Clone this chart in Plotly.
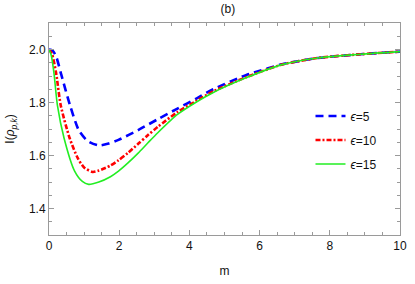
import plotly.graph_objects as go

# epsilon = 5
m_eps5 = [0, 0.1, 0.2, 0.35, 0.6, 0.85, 1.1, 1.42, 1.7, 1.98, 2.54, 3.1, 3.66, 4.2, 4.68, 5.61, 6.64, 7.66, 8.87, 10]
I_eps5 = [2.0, 1.996, 1.975, 1.905, 1.789, 1.695, 1.655, 1.638, 1.645, 1.659, 1.696, 1.737, 1.777, 1.815, 1.850, 1.903, 1.944, 1.968, 1.982, 1.992]

# epsilon = 10
m_eps10 = [0, 0.08, 0.2, 0.335, 0.59, 0.82, 1.0, 1.24, 1.42, 1.75, 1.98, 2.25, 2.54, 2.82, 3.1, 3.66, 4.2, 4.68, 5.61, 6.64, 7.66, 8.87, 10]
I_eps10 = [2.0, 1.985, 1.913, 1.789, 1.665, 1.590, 1.555, 1.538, 1.543, 1.562, 1.582, 1.610, 1.644, 1.677, 1.708, 1.764, 1.806, 1.842, 1.895, 1.943, 1.968, 1.982, 1.992]

# epsilon = 15
m_eps15 = [0, 0.06, 0.14, 0.24, 0.43, 0.73, 0.95, 1.13, 1.42, 1.75, 1.98, 2.25, 2.54, 2.82, 3.1, 3.66, 4.2, 4.68, 5.61, 6.64, 7.66, 8.87, 10]
I_eps15 = [2.0, 1.98, 1.913, 1.789, 1.665, 1.541, 1.502, 1.491, 1.500, 1.520, 1.541, 1.572, 1.609, 1.648, 1.686, 1.755, 1.802, 1.838, 1.893, 1.943, 1.968, 1.982, 1.992]

x_ticks = [0, 2, 4, 6, 8, 10]
y_ticks = [1.4, 1.6, 1.8, 2.0]

FONT = "Liberation Sans, Arial, sans-serif"
AX = "#9a9a9a"

fig = go.Figure()
fig.add_trace(go.Scatter(x=m_eps5, y=I_eps5, mode="lines", name="<i>ϵ</i>=5",
                         legendgroup="a", line=dict(color="#0000ff", width=2.6, dash="8px,5px",
                                                    shape="spline", smoothing=0.7)))
fig.add_trace(go.Scatter(x=m_eps10, y=I_eps10, mode="lines", name="<i>ϵ</i>=10",
                         legendgroup="b", line=dict(color="#ff0000", width=2.6, dash="5px,2px,2px,2px",
                                                    shape="spline", smoothing=0.7)))
fig.add_trace(go.Scatter(x=m_eps15, y=I_eps15, mode="lines", name="<i>ϵ</i>=15",
                         legendgroup="c", line=dict(color="#22ee22", width=1.6,
                                                    shape="spline", smoothing=0.7)))

axis_common = dict(showline=True, linecolor=AX, linewidth=1, mirror="allticks",
                   ticks="inside", ticklen=5, tickcolor=AX, showgrid=False, zeroline=False,
                   ticklabeloverflow="allow",
                   tickfont=dict(family=FONT, size=12, color="#111"))

fig.update_xaxes(range=[0, 10], tickvals=x_ticks, ticktext=[str(v) for v in x_ticks],
                 minor=dict(dtick=0.5, tick0=0, ticks="inside", ticklen=3, tickcolor=AX),
                 title=dict(text="m", font=dict(family=FONT, size=12, color="#111"), standoff=14),
                 **axis_common)
fig.update_yaxes(range=[1.3, 2.1], tickvals=y_ticks, ticktext=[f"{v:.1f}" for v in y_ticks],
                 minor=dict(dtick=0.05, tick0=0, ticks="inside", ticklen=3, tickcolor=AX),
                 title=dict(text="I(<i>ρ</i><sub><i>p,k</i></sub>)", font=dict(family=FONT, size=12, color="#111"), standoff=11),
                 **axis_common)

fig.update_layout(
    width=415, height=284,
    margin=dict(l=49, r=8, t=23, b=46),
    paper_bgcolor="white", plot_bgcolor="white",
    title=dict(text="(b)", x=0.549, xanchor="center", y=0.97, yanchor="middle",
               font=dict(family=FONT, size=12, color="#111")),
    legend=dict(x=0.745, y=0.63, xanchor="left", yanchor="top", bgcolor="rgba(0,0,0,0)",
                font=dict(family=FONT, size=12, color="#111"), tracegroupgap=5),
    showlegend=True,
)

fig.write_html("out.html", config={"displayModeBar": False},
               post_script="document.body.style.margin='0';")
